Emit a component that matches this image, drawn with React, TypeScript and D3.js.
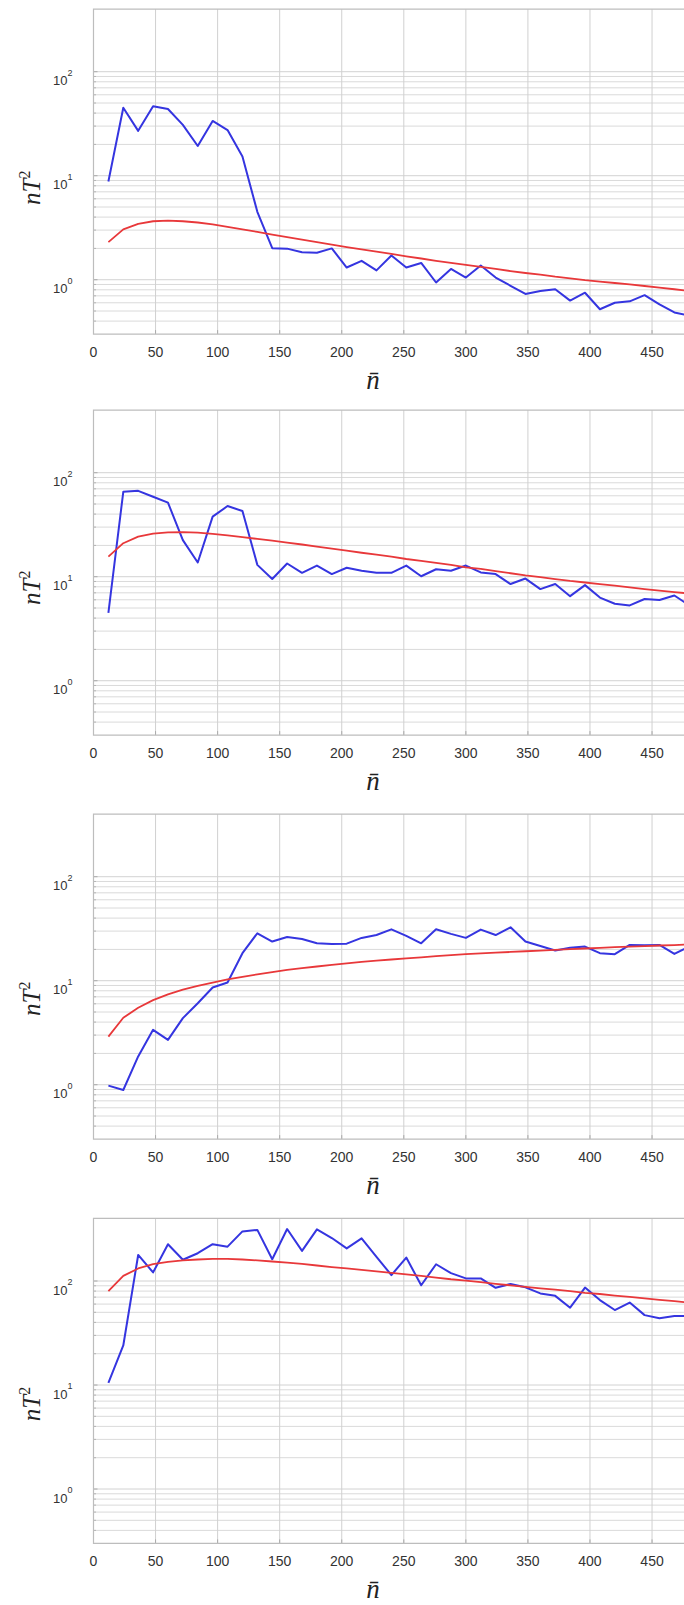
import { useEffect, useRef } from 'react';
import * as d3 from 'd3';

// sample positions (n bar)
const N_BAR = [
  12, 24, 36, 48, 60, 72, 84, 96, 108, 120, 132, 144, 156, 168, 180, 192, 204, 216, 228, 240,
  252, 264, 276, 288, 300, 312, 324, 336, 348, 360, 372, 384, 396, 408, 420, 432, 444, 456, 468, 480, 492,
];

// panel 1
const BLUE_1 = [
  8.8, 45, 27, 46.5, 43.8, 30.8, 19.3, 33.6, 27.5, 15.3, 4.5, 2.01, 1.99, 1.84, 1.82, 2.0, 1.31, 1.52, 1.23, 1.71,
  1.31, 1.45, 0.94, 1.27, 1.05, 1.37, 1.05, 0.875, 0.73, 0.78, 0.81, 0.63, 0.75, 0.52, 0.6, 0.62, 0.71, 0.58, 0.485, 0.45, 0.43,
];
const RED_1 = [
  2.3, 3.05, 3.45, 3.65, 3.7, 3.65, 3.55, 3.4, 3.22, 3.05, 2.88, 2.72, 2.57, 2.43, 2.3, 2.18, 2.06, 1.96, 1.86, 1.77,
  1.68, 1.6, 1.52, 1.45, 1.39, 1.33, 1.27, 1.21, 1.16, 1.12, 1.07, 1.03, 0.99, 0.96, 0.93, 0.9, 0.87, 0.84, 0.81, 0.78, 0.76,
];

// panel 2
const BLUE_2 = [
  4.5, 65.6, 67, 58.7, 51.5, 22.5, 13.7, 37.8, 47.8, 42.8, 13, 9.5, 13.4, 10.9, 12.8, 10.6, 12.2, 11.4, 10.9, 10.9,
  12.8, 10.1, 11.8, 11.4, 12.8, 11.0, 10.6, 8.5, 9.6, 7.6, 8.5, 6.5, 8.3, 6.3, 5.5, 5.3, 6.1, 5.97, 6.6, 5.3, 5.5,
];
const RED_2 = [
  15.6, 21, 24.3, 26, 26.7, 26.8, 26.5, 25.8, 25, 24, 23.1, 22.2, 21.3, 20.4, 19.5, 18.6, 17.8, 17, 16.3, 15.6,
  14.8, 14.2, 13.6, 13, 12.3, 11.9, 11.3, 10.8, 10.3, 9.9, 9.5, 9.1, 8.8, 8.5, 8.2, 7.9, 7.6, 7.35, 7.1, 6.9, 6.7,
];

// panel 3
const BLUE_3 = [
  0.98, 0.89, 1.87, 3.37, 2.7, 4.37, 6.08, 8.6, 9.6, 18.4, 28.6, 23.8, 26.3, 25.2, 22.9, 22.6, 22.7, 25.8, 27.5, 31.2,
  27, 22.9, 31.2, 28.2, 25.8, 31, 27.5, 32.6, 23.8, 21.6, 19.5, 20.7, 21.3, 18.4, 18, 22.1, 21.9, 22.1, 18.1, 21.3, 21,
];
const RED_3 = [
  2.9, 4.4, 5.5, 6.5, 7.4, 8.2, 8.9, 9.6, 10.3, 10.9, 11.5, 12.1, 12.7, 13.2, 13.7, 14.2, 14.7, 15.2, 15.6, 16.0,
  16.4, 16.8, 17.2, 17.6, 18.0, 18.3, 18.6, 18.9, 19.2, 19.5, 19.8, 20.1, 20.4, 20.7, 21.0, 21.3, 21.5, 21.8, 22.0, 22.3, 22.5,
];

// panel 4
const BLUE_4 = [
  10.5, 24, 178, 121, 226, 160, 185, 226, 214, 300, 310, 162, 316, 195, 314, 259, 206, 257, 171, 114,
  168, 91, 145, 119, 106, 106, 86, 93.6, 87, 76, 72, 55.4, 86.5, 65.6, 52.6, 62, 47, 43.8, 46, 46, 46,
];
const RED_4 = [
  80, 112, 132, 145, 153, 158, 161, 163, 163, 161, 158, 154, 150, 146, 141, 136, 132, 128, 124, 120,
  116, 112, 108, 104, 101, 97.5, 94, 91, 88, 85, 82.5, 80, 77, 75, 72.5, 70.5, 68, 66, 64, 62, 60,
];

const BLUE_SERIES = [BLUE_1, BLUE_2, BLUE_3, BLUE_4];
const RED_SERIES = [RED_1, RED_2, RED_3, RED_4];

const X_TICKS = [0, 50, 100, 150, 200, 250, 300, 350, 400, 450, 500];
const X_TICK_LABELS = [0, 50, 100, 150, 200, 250, 300, 350, 400, 450];
const Y_MAJOR = [1, 10, 100];
const Y_MAJOR_EXP = ['0', '1', '2'];
const Y_MINOR = [0.4, 0.5, 0.6, 0.7, 0.8, 0.9, 2, 3, 4, 5, 6, 7, 8, 9, 20, 30, 40, 50, 60, 70, 80, 90];

const PANEL_TOPS = [9.1, 410.1, 814.1, 1218.4];
const YLABEL_SHIFT = [12, 11, 18, 19];

export default function App() {
  const svgRef = useRef<SVGSVGElement>(null);

  useEffect(() => {
    if (!svgRef.current) return;
    const width = 684;
    const height = 1605;
    const plotH = 325;
    const left = 93.5;

    const svg = d3.select(svgRef.current);
    svg.selectAll('*').remove();
    svg.attr('width', width).attr('height', height);

    const x = d3.scaleLinear().domain([0, 550]).range([left, left + 11 * 62.06]);

    PANEL_TOPS.forEach((top, i) => {
      const bottom = top + plotH;
      const y = d3.scaleLog().domain([0.3, 400]).range([bottom, top]);
      const g = svg.append('g');

      const clipId = `clip-${i}`;
      svg
        .append('clipPath')
        .attr('id', clipId)
        .append('rect')
        .attr('x', left)
        .attr('y', top)
        .attr('width', width - left)
        .attr('height', plotH);

      g.append('rect')
        .attr('x', left)
        .attr('y', top)
        .attr('width', width - left)
        .attr('height', plotH)
        .attr('fill', '#fff');

      // horizontal grid
      g.selectAll('.hminor')
        .data(Y_MINOR)
        .enter()
        .append('line')
        .attr('x1', left)
        .attr('x2', width)
        .attr('y1', (d) => y(d))
        .attr('y2', (d) => y(d))
        .attr('stroke', '#dadada')
        .attr('stroke-width', 1);

      g.selectAll('.hmajor')
        .data(Y_MAJOR)
        .enter()
        .append('line')
        .attr('x1', left)
        .attr('x2', width)
        .attr('y1', (d) => y(d))
        .attr('y2', (d) => y(d))
        .attr('stroke', '#d2d2d2')
        .attr('stroke-width', 1);

      // vertical grid
      g.selectAll('.vgrid')
        .data(X_TICKS.slice(1))
        .enter()
        .append('line')
        .attr('x1', (d) => x(d))
        .attr('x2', (d) => x(d))
        .attr('y1', top)
        .attr('y2', bottom)
        .attr('stroke', '#d0d0d0')
        .attr('stroke-width', 1);

      // ticks (inward)
      g.selectAll('.ytickmaj')
        .data(Y_MAJOR)
        .enter()
        .append('line')
        .attr('x1', left)
        .attr('x2', left + 4)
        .attr('y1', (d) => y(d))
        .attr('y2', (d) => y(d))
        .attr('stroke', '#aaa');
      g.selectAll('.ytickmin')
        .data(Y_MINOR)
        .enter()
        .append('line')
        .attr('x1', left)
        .attr('x2', left + 2.5)
        .attr('y1', (d) => y(d))
        .attr('y2', (d) => y(d))
        .attr('stroke', '#b5b5b5');
      g.selectAll('.xtick')
        .data(X_TICKS.slice(1))
        .enter()
        .append('line')
        .attr('x1', (d) => x(d))
        .attr('x2', (d) => x(d))
        .attr('y1', bottom)
        .attr('y2', bottom - 4)
        .attr('stroke', '#aaa');

      // axes box (right side is outside the picture)
      g.append('path')
        .attr('d', `M${width},${top}H${left}V${bottom}H${width}`)
        .attr('fill', 'none')
        .attr('stroke', '#bdbdbd')
        .attr('stroke-width', 1.2);

      // data
      const line = d3
        .line<number>()
        .x((_, j) => x(N_BAR[j]))
        .y((d) => y(d));

      const lines = g.append('g').attr('clip-path', `url(#${clipId})`);
      lines
        .append('path')
        .datum(BLUE_SERIES[i])
        .attr('d', line)
        .attr('fill', 'none')
        .attr('stroke', '#3535e0')
        .attr('stroke-width', 2)
        .attr('stroke-linejoin', 'round');
      lines
        .append('path')
        .datum(RED_SERIES[i])
        .attr('d', line)
        .attr('fill', 'none')
        .attr('stroke', '#e8383a')
        .attr('stroke-width', 1.8)
        .attr('stroke-linejoin', 'round');

      // x tick labels
      g.selectAll('.xlab')
        .data(X_TICK_LABELS)
        .enter()
        .append('text')
        .attr('x', (d) => x(d))
        .attr('y', bottom + 22.5)
        .attr('text-anchor', 'middle')
        .attr('font-family', '"Liberation Sans", Arial, sans-serif')
        .attr('font-size', 14)
        .attr('fill', '#333')
        .text((d) => String(d));

      // y tick labels
      Y_MAJOR.forEach((v, k) => {
        const t = g
          .append('text')
          .attr('x', 72.5)
          .attr('y', y(v) + 13.5)
          .attr('text-anchor', 'end')
          .attr('font-family', '"Liberation Sans", Arial, sans-serif')
          .attr('font-size', 13)
          .attr('fill', '#333')
          .text('10');
        t.append('tspan')
          .attr('dy', -9.5)
          .attr('font-size', 9)
          .text(Y_MAJOR_EXP[k]);
      });

      // y label
      const ylab = g
        .append('text')
        .attr('transform', `translate(39.5, ${y(10) + YLABEL_SHIFT[i]}) rotate(-90)`)
        .attr('text-anchor', 'middle')
        .attr('font-family', '"Liberation Serif", "DejaVu Serif", serif')
        .attr('font-size', 25)
        .attr('fill', '#222');
      ylab.append('tspan').attr('font-style', 'italic').text('nT');
      ylab.append('tspan').attr('dy', -10).attr('font-size', 16).text('2');

      // x label
      g.append('text')
        .attr('x', 373)
        .attr('y', bottom + 55)
        .attr('text-anchor', 'middle')
        .attr('font-family', '"Liberation Serif", "DejaVu Serif", serif')
        .attr('font-style', 'italic')
        .attr('font-size', 27)
        .attr('fill', '#222')
        .text('n\u0304');
    });
  }, []);

  return (
    <div style={{ position: 'absolute', left: 0, top: 0 }}>
      <svg ref={svgRef} style={{ display: 'block' }} />
    </div>
  );
}
